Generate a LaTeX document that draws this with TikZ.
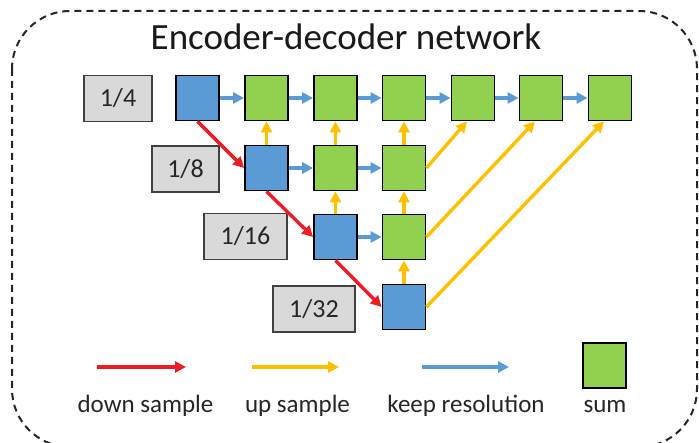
\documentclass[tikz,border=0pt]{standalone}
\usepackage{fontspec}
\setmainfont{Carlito}
\usetikzlibrary{arrows.meta,calc}
\definecolor{cblue}{HTML}{5B9BD5}
\definecolor{cgreen}{HTML}{92D050}
\definecolor{cred}{HTML}{EE1C25}
\definecolor{cyellow}{HTML}{FFC000}
\definecolor{cgray}{HTML}{D9D9D9}
\definecolor{cborder}{HTML}{404040}
\tikzset{
  cell/.style={draw=black,line width=1.8pt,minimum width=43pt,minimum height=45pt,inner sep=0pt},
  enc/.style={cell,fill=cblue},
  sumbox/.style={cell,fill=cgreen},
  lab/.style={draw=cborder,fill=cgray,line width=1.8pt,minimum height=46pt,inner sep=0pt,
    font=\fontsize{26}{30}\selectfont,text=black!85},
  arr/.style={line width=3.4pt,-{Triangle[length=11pt,width=11pt]}},
  downarr/.style={arr,draw=cred},
  uparr/.style={arr,draw=cyellow},
  keeparr/.style={arr,draw=cblue},
  legtext/.style={anchor=base,font=\fontsize{25}{30}\selectfont,text=black!85},
}
\begin{document}
\begin{tikzpicture}[x=1pt,y=-1pt]
\useasboundingbox (0,0) rectangle (699,443);
\begin{scope}
\clip (0,0) rectangle (699,443);
\draw[line width=2pt,dash pattern=on 7pt off 5pt,rounded corners=58pt,black!85] (12,11) rectangle (697,447);
\end{scope}
\node[anchor=base,font=\fontsize{37}{42}\selectfont,text=black!90] (title) at (346,50) {Encoder-decoder network};
% labels
\node[lab,minimum width=68pt] (l4) at (118,98.5) {1/4};
\node[lab,minimum width=67pt] (l8) at (185.5,169) {1/8};
\node[lab,minimum width=83pt] (l16) at (245.5,236.5) {1/16};
\node[lab,minimum width=82pt] (l32) at (314,309) {1/32};
% row 0
\node[enc] (b00) at (197.5,98) {};
\node[sumbox] (g01) at (266.5,98) {};
\node[sumbox] (g02) at (335.5,98) {};
\node[sumbox] (g03) at (404,98) {};
\node[sumbox] (g04) at (473,98) {};
\node[sumbox] (g05) at (541,98) {};
\node[sumbox] (g06) at (610,98) {};
% row 1
\node[enc] (b11) at (266.5,168) {};
\node[sumbox] (g12) at (335.5,168) {};
\node[sumbox] (g13) at (404,168) {};
% row 2
\node[enc] (b22) at (335.5,237) {};
\node[sumbox] (g23) at (404,237) {};
% row 3
\node[enc] (b33) at (404,307) {};
% keep resolution
\draw[keeparr] (b00.east) -- (g01.west);
\draw[keeparr] (g01.east) -- (g02.west);
\draw[keeparr] (g02.east) -- (g03.west);
\draw[keeparr] (g03.east) -- (g04.west);
\draw[keeparr] (g04.east) -- (g05.west);
\draw[keeparr] (g05.east) -- (g06.west);
\draw[keeparr] (b11.east) -- (g12.west);
\draw[keeparr] (g12.east) -- (g13.west);
\draw[keeparr] (b22.east) -- (g23.west);
% up sample vertical
\draw[uparr] (b11.north) -- (g01.south);
\draw[uparr] (g12.north) -- (g02.south);
\draw[uparr] (g13.north) -- (g03.south);
\draw[uparr] (b22.north) -- (g12.south);
\draw[uparr] (g23.north) -- (g13.south);
\draw[uparr] (b33.north) -- (g23.south);
% up sample diagonal
\draw[uparr] (g13.east) -- ($(g04.south)+(-6,0)$);
\draw[uparr] (g23.east) -- ($(g05.south)+(-6,0)$);
\draw[uparr] (b33.east) -- ($(g06.south)+(-6,0)$);
% down sample
\draw[downarr] (b00.south) -- (b11.west);
\draw[downarr] (b11.south) -- (b22.west);
\draw[downarr] (b22.south) -- (b33.west);
% legend
\coordinate (ra) at (97,367); \coordinate (rb) at (186,367);
\coordinate (ya) at (252,367); \coordinate (yb) at (339,367);
\coordinate (ka) at (422,367); \coordinate (kb) at (509,367);
\draw[downarr] (ra) -- (rb);
\draw[uparr] (ya) -- (yb);
\draw[keeparr] (ka) -- (kb);
\node[sumbox] (legsum) at (604.5,365.5) {};
\node[legtext] (t1) at (145.5,413) {down sample};
\node[legtext] (t2) at (297.5,413) {up sample};
\node[legtext] (t3) at (466,413) {keep resolution};
\node[legtext] (t4) at (605,413) {sum};
\end{tikzpicture}
\end{document}
